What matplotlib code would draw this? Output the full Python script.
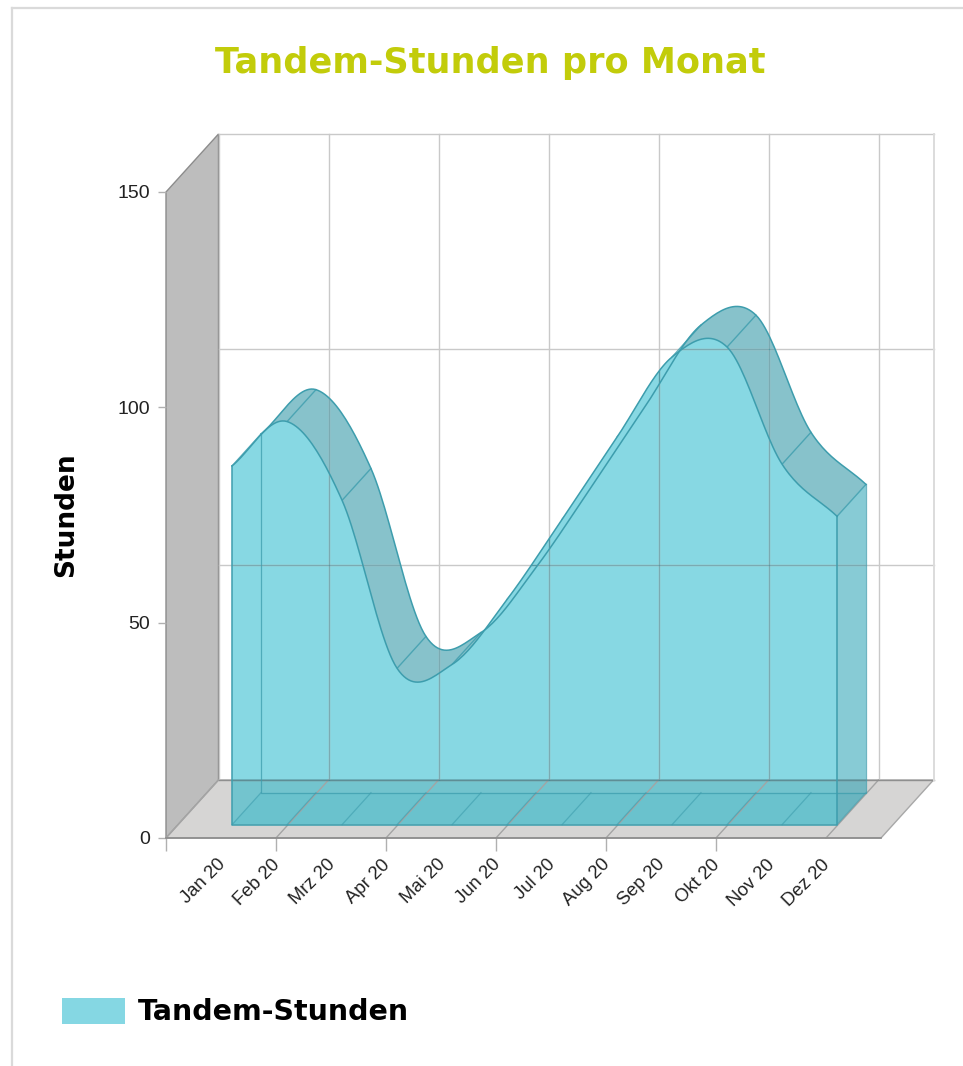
import numpy as np
import matplotlib
matplotlib.use("Agg")
import matplotlib.pyplot as plt
from matplotlib.lines import Line2D
from matplotlib.patches import PathPatch, Polygon, Rectangle
from matplotlib.path import Path

months = ["Jan 20", "Feb 20", "Mrz 20", "Apr 20", "Mai 20", "Jun 20",
          "Jul 20", "Aug 20", "Sep 20", "Okt 20", "Nov 20", "Dez 20"]
hours = [83.3, 93.6, 75.3, 36.3, 37.2, 52.3, 70.9, 90.0, 108.6, 110.9, 83.7, 71.6]
y_ticks = [0, 50, 100, 150]

W, H = 963, 1066
TEAL = "#19b5ca"
EDGE = "#3d9dad"
GRID = "#c9c9c9"
DX = 52.5 / 55    # one unit of depth, in months
DY = 58 / (646 / 150)    # one unit of depth, in hours
D_FRONT = 0.23
D_BACK = 0.78


def smooth(xs, ys, steps=24):
    # cubic hermite through the monthly values
    xs = np.asarray(xs, dtype=float)
    ys = np.asarray(ys, dtype=float)
    tang = np.gradient(ys, xs)
    out_x, out_y = [], []
    for i in range(len(xs) - 1):
        t = np.linspace(0, 1, steps, endpoint=False)
        h00 = 2 * t**3 - 3 * t**2 + 1
        h10 = t**3 - 2 * t**2 + t
        h01 = -2 * t**3 + 3 * t**2
        h11 = t**3 - t**2
        out_x.append(xs[i] + t)
        out_y.append(h00 * ys[i] + h10 * tang[i] + h01 * ys[i + 1] + h11 * tang[i + 1])
    out_x.append(xs[-1:])
    out_y.append(ys[-1:])
    return np.concatenate(out_x), np.concatenate(out_y)


def at(x, y, depth):
    return np.asarray(x, dtype=float) + depth * DX, np.asarray(y, dtype=float) + depth * DY


fig = plt.figure(figsize=(W / 100, H / 100), dpi=100)
fig.patch.set_facecolor("white")

# page frame around the chart
fig.add_artist(Line2D([12 / W, 12 / W], [0, 1 - 8 / H], color="#dadada", lw=1.6))
fig.add_artist(Line2D([12 / W, 1], [1 - 8 / H, 1 - 8 / H], color="#dadada", lw=1.6))

ax = fig.add_axes([166 / W, 1 - 838 / H, 715 / W, 646 / H])
ax.patch.set_visible(False)
for s in ax.spines.values():
    s.set_visible(False)
x0 = -54 / 55
x1 = x0 + 13
ax.set_xlim(x0, x1)
ax.set_ylim(0, 150)
ax.autoscale(False)

# walls and floor
wall = [(x0, 0), at(x0, 0, 1), at(x0, 150, 1), (x0, 150)]
ax.add_patch(Polygon(wall, closed=True, fc="#bdbdbd", ec="#8c8c8c", lw=1, clip_on=False))
floor = [(x0, 0), (x1, 0), at(x1, 0, 1), at(x0, 0, 1)]
ax.add_patch(Polygon(floor, closed=True, fc="#d6d5d4", ec="#a8a8a8", lw=1, clip_on=False))

grid_x = x0 + np.arange(0, 14, 2)
grid_lines = []
for g in grid_x:
    gx, gy = at([g, g], [0, 150], 1)
    ax.plot(gx, gy, color=GRID, lw=1, clip_on=False)
    grid_lines.append((gx, gy))
    ex, ey = at(g, 0, 1)
    ax.plot([g, ex], [0, ey], color="#a4a4a4", lw=1, clip_on=False)
for v in y_ticks:
    lx, ly = at([x0, x1], [v, v], 1)
    ax.plot(lx, ly, color=GRID if v else "#8f8f8f", lw=1, clip_on=False)
    grid_lines.append((lx, ly))
rx, ry = at([x1, x1], [0, 150], 1)
ax.plot(rx, ry, color="#dcdcdc", lw=1.4, clip_on=False)
ax.plot([x0, x1], [0, 0], color="#8c8c8c", lw=1.2, clip_on=False)

# area body
idx = np.arange(len(hours))
sx, sy = smooth(idx, hours)
fx, fy = at(sx, sy, D_FRONT)
bx, by = at(sx, sy, D_BACK)
_, base_f = at(0, 0, D_FRONT)
_, base_b = at(0, 0, D_BACK)

front_poly = np.column_stack([np.r_[fx, fx[-1], fx[0]], np.r_[fy, base_f, base_f]])
ribbon_poly = np.column_stack([np.r_[fx, bx[::-1]], np.r_[fy, by[::-1]]])

# ribbon only shows where it is not behind the front face
ring = np.array([[x0 - 5, -50], [x0 - 5, 250], [x1 + 5, 250], [x1 + 5, -50], [x0 - 5, -50]])
hole = front_poly
area2 = np.sum(hole[:, 0] * np.roll(hole[:, 1], -1) - np.roll(hole[:, 0], -1) * hole[:, 1])
if area2 < 0:
    hole = hole[::-1]
verts = np.vstack([ring, hole, hole[:1]])
codes = [Path.MOVETO] + [Path.LINETO] * 3 + [Path.CLOSEPOLY]
codes += [Path.MOVETO] + [Path.LINETO] * (len(hole) - 1) + [Path.CLOSEPOLY]
outside = Path(verts, codes)

bottom = [at(idx[0], 0, D_FRONT), at(idx[-1], 0, D_FRONT), at(idx[-1], 0, D_BACK), at(idx[0], 0, D_BACK)]
ax.add_patch(Polygon(bottom, closed=True, fc=TEAL, alpha=0.10, ec="none"))

rib = PathPatch(Path(np.vstack([ribbon_poly, ribbon_poly[:1]]), closed=True), fc="#1a8a9c", alpha=0.52, ec="none")
ax.add_patch(rib)
rib.set_clip_path(outside, ax.transData)

side = [at(idx[-1], hours[-1], D_FRONT), at(idx[-1], hours[-1], D_BACK),
        at(idx[-1], 0, D_BACK), at(idx[-1], 0, D_FRONT)]
side_patch = Polygon(side, closed=True, fc="#1a9cb0", alpha=0.52, ec="none")
ax.add_patch(side_patch)

front_patch = Polygon(front_poly, closed=True, fc=TEAL, alpha=0.52, ec="none")
ax.add_patch(front_patch)

# wall lines seen through the area are darker
for lx, ly in grid_lines:
    for shape in [front_patch, side_patch, rib]:
        ln, = ax.plot(lx, ly, color="#2f8c9c", lw=0.9, alpha=0.5)
        if shape is rib:
            ln.set_clip_path(Path(np.vstack([ribbon_poly, ribbon_poly[:1]]), closed=True), ax.transData)
        else:
            ln.set_clip_path(shape)

# month edges across the top band and the bottom
for i in idx:
    tx = [i + D_FRONT * DX, i + D_BACK * DX]
    ty = [hours[i] + D_FRONT * DY, hours[i] + D_BACK * DY]
    ln, = ax.plot(tx, ty, color=EDGE, lw=1, alpha=0.8)
    ln.set_clip_path(outside, ax.transData)
    ax.plot(tx, [D_FRONT * DY, D_BACK * DY], color=EDGE, lw=0.9, alpha=0.6)

ax.plot(fx, fy, color=EDGE, lw=1.1)
ax.plot(bx, by, color=EDGE, lw=1.1)
ax.plot([fx[0], fx[0], fx[-1], fx[-1]], [fy[0], base_f, base_f, fy[-1]], color=EDGE, lw=1.1)
ax.plot([bx[0], bx[0], bx[-1], bx[-1]], [by[0], base_b, base_b, by[-1]], color=EDGE, lw=0.9, alpha=0.75)

# axes
ax.set_yticks(y_ticks)
ax.set_xticks(grid_x[:-1])
ax.set_xticklabels([])
ax.set_xticks(x0 + 0.92 + np.arange(12), minor=True)
ax.set_xticklabels(months, minor=True, rotation=45, ha="right", rotation_mode="anchor",
                   fontfamily="Liberation Sans", fontsize=13.3, color="#222222")
ax.tick_params(axis="x", which="major", length=9, color="#b0b0b0", width=1)
ax.tick_params(axis="x", which="minor", length=0, pad=13)
ax.tick_params(axis="y", length=6, color="#b0b0b0", width=1, pad=5.5, labelsize=14, labelcolor="#222222")
for lab in ax.get_yticklabels():
    lab.set_fontfamily("Liberation Sans")

fig.text(490 / W, 1 - 63 / H, "Tandem-Stunden pro Monat", color="#c2cc0a", fontsize=25.3,
         fontweight="bold", ha="center", va="center")
fig.text(66 / W, 1 - 515 / H, "Stunden", color="black", fontsize=19, fontweight="bold",
         rotation=90, ha="center", va="center")

# legend
fig.add_artist(Rectangle((62 / W, 1 - 1024 / H), 63 / W, 26 / H, transform=fig.transFigure,
                         fc="#85d7e3", ec="none"))
fig.text(138 / W, 1 - 1012 / H, "Tandem-Stunden", color="black", fontsize=20.5, fontweight="bold",
         ha="left", va="center")

fig.savefig("out.png", dpi=100)
